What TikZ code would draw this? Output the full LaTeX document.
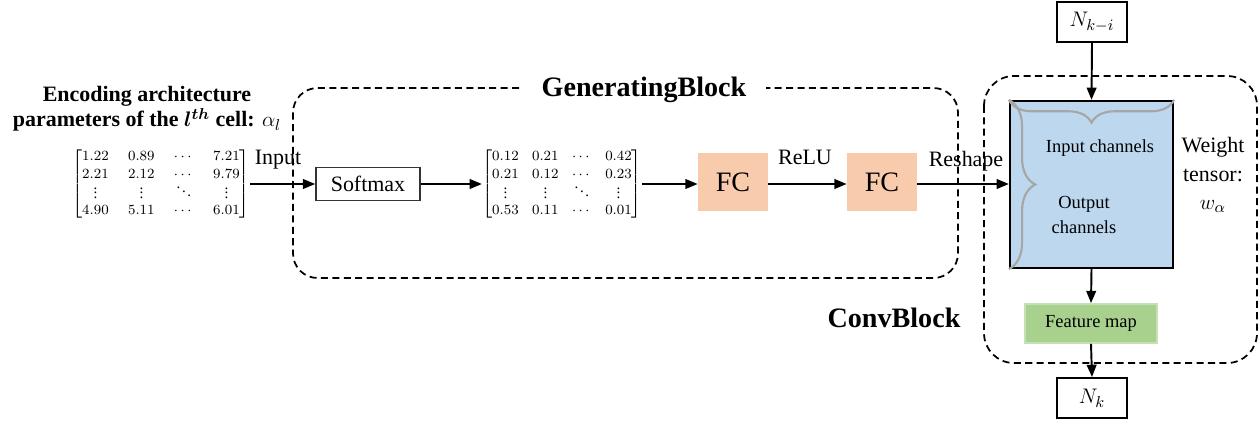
\documentclass[tikz,border=0pt]{standalone}
\usepackage{amsmath,bm}
\usepackage{fontspec}
\setmainfont{Liberation Serif}
\usetikzlibrary{arrows.meta,decorations.pathreplacing}
\definecolor{fcpeach}{HTML}{F8CBAD}
\definecolor{tensorblue}{HTML}{BDD7EE}
\definecolor{mapgreen}{HTML}{A9D18E}
\definecolor{mapedge}{HTML}{C5E0B4}
\definecolor{bracegray}{HTML}{A6A6A6}
\newcommand\mvdots{\vcenter{\baselineskip=2.6pt\lineskiplimit=0pt\hbox{.}\hbox{.}\hbox{.}}}
\newcommand\mddots{\mathinner{\mkern1mu\raise4.6pt\hbox{.}\mkern2mu\raise2.3pt\hbox{.}\mkern2mu\raise0pt\hbox{.}\mkern1mu}}

\begin{document}
\begin{tikzpicture}[x=0.02cm,y=-0.02cm,
	arr/.style={-{Triangle[length=7pt,width=5.5pt]},line width=1.1pt},
	dashbox/.style={dash pattern=on 4pt off 2.5pt,line width=1pt},
	blk/.style={font=\fontsize{16}{18}\selectfont\bfseries},
	lbl/.style={font=\fontsize{12.5}{14}\selectfont},
	small/.style={font=\fontsize{10.5}{14}\selectfont},
	mat/.style={inner sep=0pt,font=\fontsize{8.5}{10.2}\selectfont},
	fcbox/.style={fill=fcpeach,minimum width=1.4cm,minimum height=1.16cm,font=\fontsize{16}{18}\selectfont},
	nbox/.style={draw,line width=1.1pt,minimum width=1.4cm,minimum height=0.8cm,font=\fontsize{13}{15}\selectfont}]
	\useasboundingbox (0,0) rectangle (1260,423);

	% generating block
	\draw[dashbox,rounded corners=14pt] (293,88) rectangle (958,278);
	\node[blk,fill=white,inner xsep=11pt] (gentitle) at (644,90) {GeneratingBlock};

	\node[font=\fontsize{12.5}{14.2}\selectfont\bfseries,align=center] (enc) at (147,109)
		{Encoding architecture\\parameters of the $\bm{l^{th}}$ cell: $\alpha_l$};

	\node[mat] (matA) at (161,184) {\setlength\arraycolsep{5.5pt}$\begin{bmatrix}
		1.22 & 0.89 & \cdots & 7.21\\
		2.21 & 2.12 & \cdots & 9.79\\
		\mvdots & \mvdots & \mddots & \mvdots\\
		4.90 & 5.11 & \cdots & 6.01
	\end{bmatrix}$};
	\node[draw=black!80,line width=0.9pt,minimum width=2.08cm,minimum height=0.66cm,lbl] (soft) at (368,184) {Softmax};
	\node[mat] (matB) at (562,184) {\setlength\arraycolsep{3.8pt}$\begin{bmatrix}
		0.12 & 0.21 & \cdots & 0.42\\
		0.21 & 0.12 & \cdots & 0.23\\
		\mvdots & \mvdots & \mddots & \mvdots\\
		0.53 & 0.11 & \cdots & 0.01
	\end{bmatrix}$};
	\node[fcbox] (fc1) at (733,182) {FC};
	\node[fcbox] (fc2) at (882,182) {FC};

	\node[lbl] (inlbl) at (278,160) {Input};
	\node[lbl] (relu) at (805,157) {ReLU};
	\node[lbl] (reshape) at (966,161) {Reshape};

	% conv block
	\draw[dashbox,rounded corners=17pt] (984,76) rectangle (1257,363);
	\node[blk] (convtitle) at (894,318) {ConvBlock};

	\node[draw,line width=1.3pt,fill=tensorblue,minimum width=3.26cm,minimum height=3.34cm] (tensor) at (1091.5,184.5) {};
	\draw[bracegray,line width=1.2pt,decorate,decoration={brace,amplitude=13pt}] (tensor.north east) -- (tensor.north west);
	\draw[bracegray,line width=1.2pt,decorate,decoration={brace,amplitude=15pt}] (tensor.north west) -- (tensor.south west);
	\node[small] (inch) at (1100,148) {Input channels};
	\node[small,align=center] (outch) at (1084,215) {Output\\channels};
	\node[lbl,align=center,font=\fontsize{12.5}{16}\selectfont] (weight) at (1213,175) {Weight\\tensor:\\$w_\alpha$};

	\node[fill=mapgreen,draw=mapedge,line width=1pt,minimum width=2.64cm,minimum height=0.78cm,small] (fmap) at (1091,323.5) {Feature map};
	\node[nbox] (ntop) at (1092,22) {$N_{k-i}$};
	\node[nbox] (nbot) at (1092,398) {$N_k$};

	\draw[arr] (matA.east) -- (soft.west);
	\draw[arr] (soft.east) -- (matB.west);
	\draw[arr] (matB.east) -- (matB.east -| fc1.west);
	\draw[arr] (fc1.east |- matB.east) -- (fc2.west |- matB.east);
	\draw[arr] (fc2.east |- matB.east) -- (tensor.west |- matB.east);
	\draw[arr] (ntop.south) -- (tensor.north);
	\draw[arr] (tensor.south) -- (fmap.north);
	\draw[arr] (fmap.south) -- (nbot.north);
\end{tikzpicture}
\end{document}
